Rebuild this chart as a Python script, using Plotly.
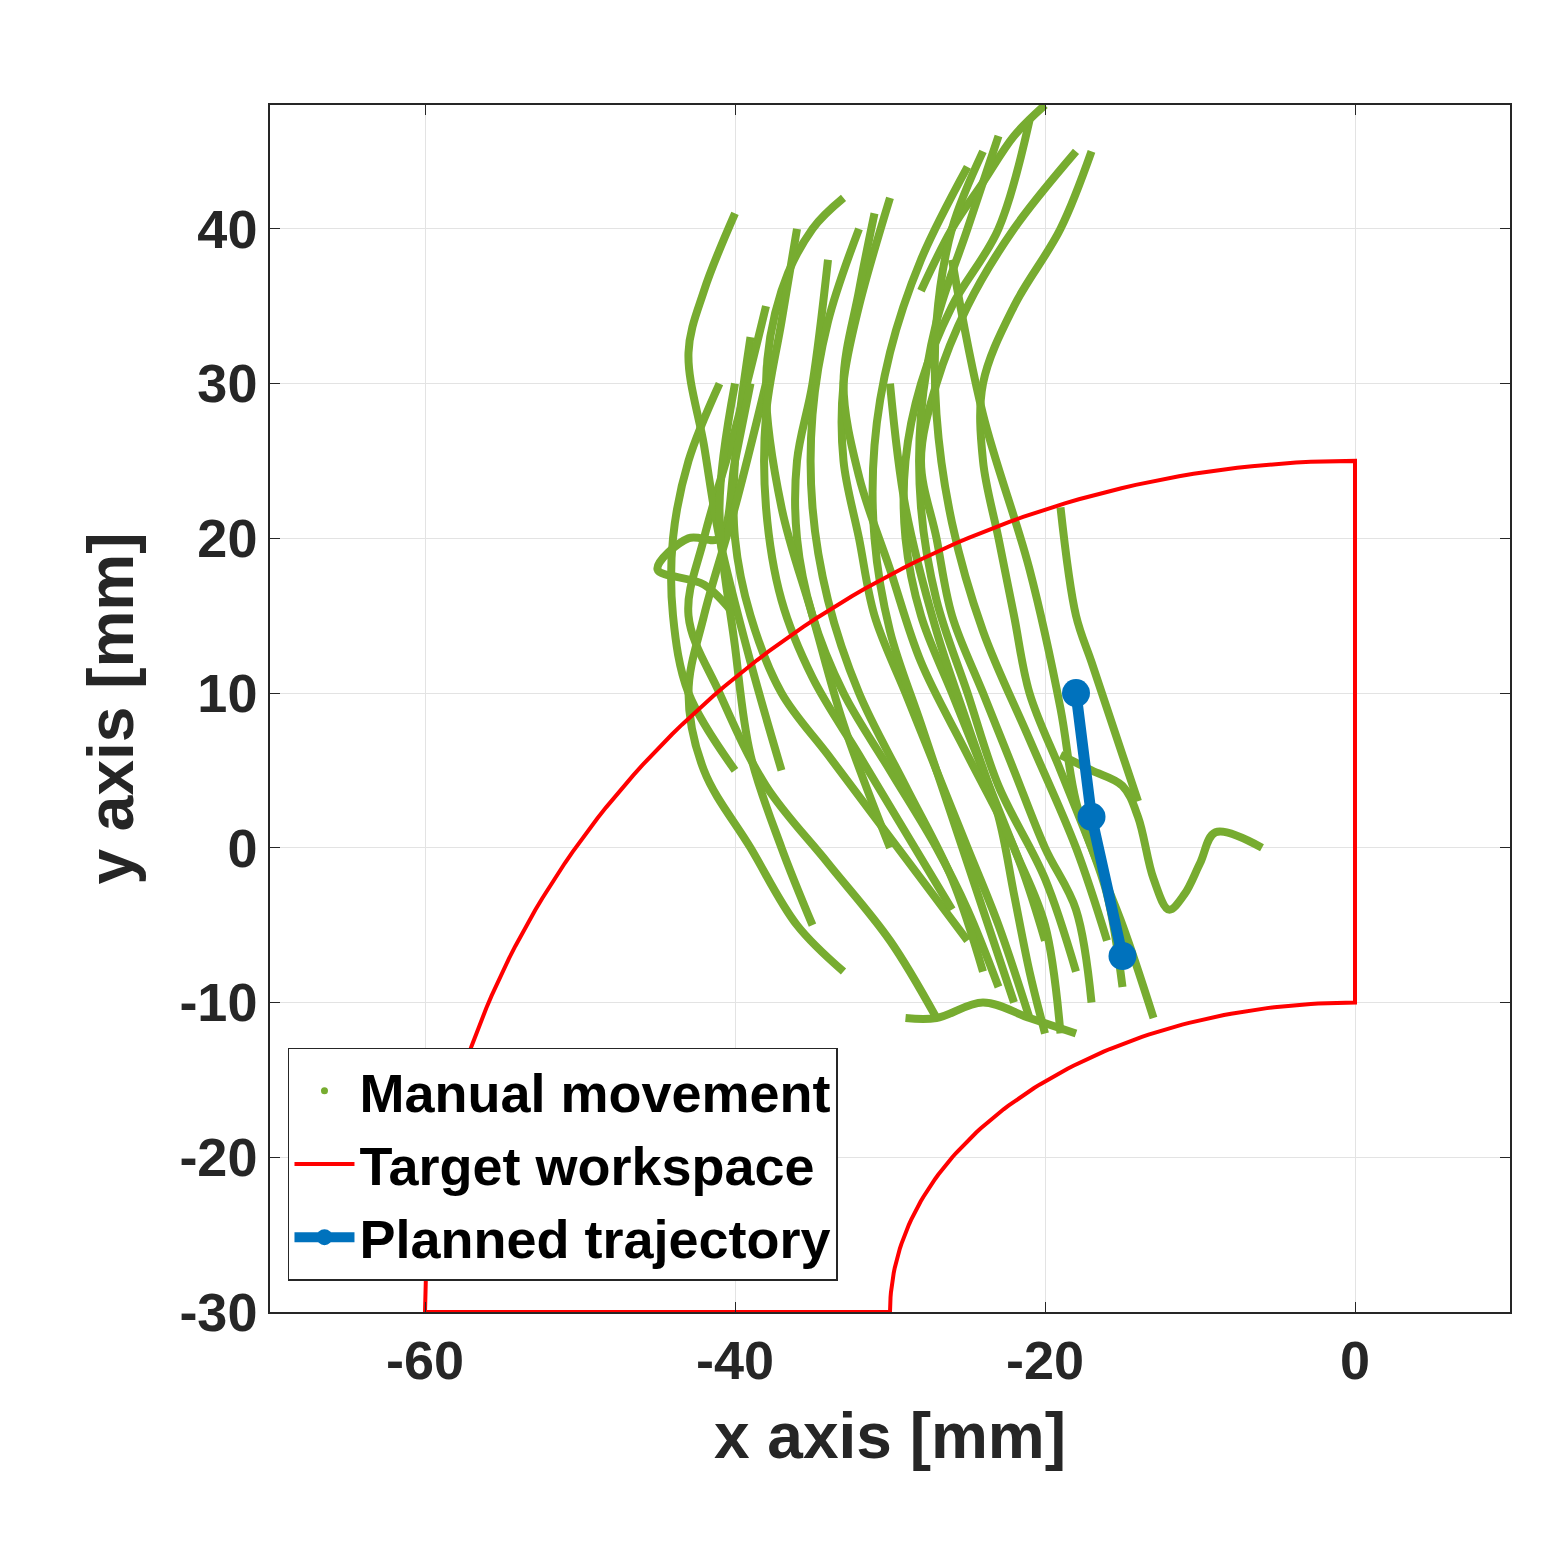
import numpy as np
import plotly.graph_objects as go

# Manual movement strands
strands = [
    ([-19,-20,-22,-24,-26,-28,-29,-29,-28,-26,-23,-21], [-12,-5,0,5,10,15,20,25,30,35,40,47]),
    ([-21,-23,-25,-27,-29,-31,-32,-33,-33,-32,-30], [-11,-5,0,5,10,15,20,25,30,35,42]),
    ([-17,-18,-20,-22,-24,-26,-27,-28,-27,-25,-22,-18], [-10,-4,0,5,10,15,20,25,30,35,40,45]),
    ([-23,-25,-27,-30,-33,-35,-36,-36,-35,-34], [-9,-4,0,5,10,15,20,25,30,38]),
    ([-25,-28,-31,-34,-37,-39,-40,-40,-39], [-6,-2,2,6,10,15,20,25,33]),
    ([-27,-30,-34,-38,-41,-43,-42,-40,-38], [-11,-6,-1,4,10,15,20,27,35]),
    ([-40,-42,-45,-43,-41,-40,-39], [15,17,18,20,20,25,30]),
    ([-40,-43,-44,-44,-43,-41], [5,10,15,20,25,30]),
    ([-33,-36,-39,-42,-43,-42,-40,-38], [-8,-5,0,5,10,15,22,30]),
    ([-37,-39,-41,-42,-43,-42,-40], [5,12,20,26,32,36,41]),
    ([-30,-33,-35,-37,-38,-37,-35,-33], [0,8,15,22,30,36,40,42]),
    ([-13,-15,-17,-19,-21,-22,-23,-24,-24,-22,-19,-17], [-11,-5,0,5,10,15,20,25,30,35,40,45]),
    ([-19,-17,-15,-14,-13,-12,-11,-10,-9,-6], [6,5,4,2,-2,-4,-3,-1,1,0]),
    ([-19,-18,-17,-16,-15,-14], [22,15,12,9,6,3]),
    ([-20,-21,-22,-23,-25,-27,-29,-30], [-12,-8,-3,2,8,14,22,30]),
    ([-29,-27,-24,-21,-18], [-11,-11,-10,-11,-12]),
    ([-28,-26,-24,-22,-20], [36,40,43,46,48]),
    ([-15,-16,-18,-19,-21,-24,-26], [-9,-3,3,9,18,28,38]),
    ([-35,-37,-39,-40,-41,-40], [-5,0,6,13,22,30]),
    ([-22,-24,-26,-28,-30,-31,-31,-30,-28,-25], [-10,-4,2,8,14,20,26,32,38,44]),
    ([-18,-20,-23,-25,-27,-28,-28,-27,-25,-23], [-8,-2,4,10,16,22,28,34,40,46]),
    ([-24,-26,-29,-32,-34,-35,-35,-34,-32], [-8,-2,4,10,16,22,28,34,40]),
    ([-20,-22,-25,-28,-30,-32,-33,-32,-31], [-6,0,6,12,18,24,30,36,41]),
    ([-26,-29,-32,-35,-37,-38,-38,-37,-36], [-4,1,6,11,16,22,28,34,40]),
    ([-16,-18,-21,-24,-26,-27,-27,-26,-24], [-6,0,7,14,21,28,34,40,45]),
]

# Target workspace (ellipse parameters)
ws_center = (0, -30)
outer_axes = (60, 55)
inner_axes = (30, 20)

# Planned trajectory
plan_x = [-18, -17, -15]
plan_y = [10, 2, -7]

green = "#77AC30"
fig = go.Figure()
for sx, sy in strands:
    fig.add_trace(go.Scatter(x=sx, y=sy, mode="lines", line=dict(color=green, width=8, shape="spline"),
                             showlegend=False, hoverinfo="skip"))
fig.add_trace(go.Scatter(x=[None], y=[None], mode="markers", marker=dict(color=green, size=7),
                         name="Manual movement"))

t = np.linspace(0, np.pi / 2, 100)
ox = ws_center[0] - outer_axes[0] * np.cos(t)
oy = ws_center[1] + outer_axes[1] * np.sin(t)
ix = ws_center[0] - inner_axes[0] * np.cos(t)
iy = ws_center[1] + inner_axes[1] * np.sin(t)
wx = list(ox) + [0, 0] + list(ix[::-1]) + [ox[0]]
wy = list(oy) + [oy[-1], iy[-1]] + list(iy[::-1]) + [oy[0]]
fig.add_trace(go.Scatter(x=wx, y=wy, mode="lines", line=dict(color="red", width=4),
                         name="Target workspace"))

fig.add_trace(go.Scatter(x=plan_x, y=plan_y, mode="lines+markers",
                         line=dict(color="#0072BD", width=11), marker=dict(color="#0072BD", size=28),
                         name="Planned trajectory"))

xticks = [-60, -40, -20, 0]
yticks = [-30, -20, -10, 0, 10, 20, 30, 40]
axis_common = dict(showgrid=True, gridcolor="#e3e3e3", zeroline=False, showline=True, mirror="ticks",
                   linecolor="#262626", linewidth=1.5, ticks="inside", ticklen=10, tickcolor="#262626",
                   tickfont=dict(family="Liberation Sans", size=54, color="#262626", weight="bold"))
tfont = dict(family="Liberation Sans", size=64, color="#262626", weight="bold")
fig.update_xaxes(range=[-70, 10], tickvals=xticks, ticktext=[str(v) for v in xticks],
                 title=dict(text="x axis [mm]", font=tfont, standoff=25), **axis_common)
fig.update_yaxes(range=[-30, 48], tickvals=yticks, ticktext=[str(v) for v in yticks],
                 title=dict(text="y axis [mm]", font=tfont, standoff=25), **axis_common)
fig.update_layout(
    width=1568, height=1544, plot_bgcolor="white", paper_bgcolor="white",
    margin=dict(l=262, r=66, t=97, b=240),
    legend=dict(x=0.0145, y=0.219, xanchor="left", yanchor="top", bgcolor="white",
                bordercolor="#262626", borderwidth=1.5, tracegroupgap=0,
                font=dict(family="Liberation Sans", size=54, color="black", weight="bold"), itemwidth=60),
)
fig.write_html("out.html")
